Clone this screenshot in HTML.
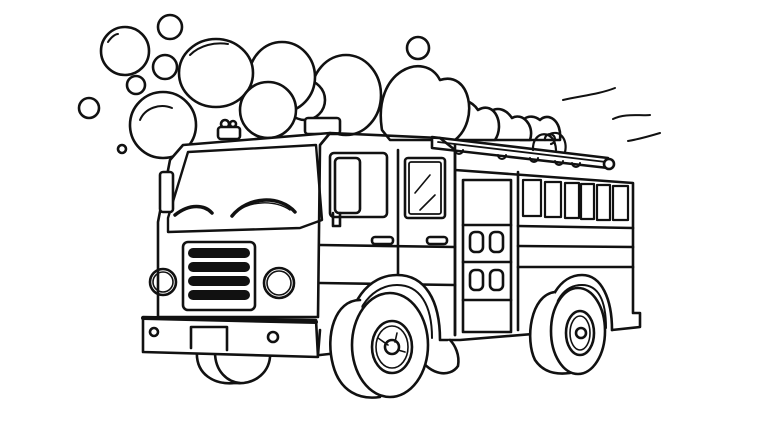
<!DOCTYPE html>
<html><head><meta charset="utf-8"><style>
html,body{margin:0;padding:0;background:#fff;width:768px;height:439px;overflow:hidden}
svg{display:block}
</style></head><body>
<svg width="768" height="439" viewBox="0 0 768 439" xmlns="http://www.w3.org/2000/svg" fill="none" stroke="#111" stroke-width="2.6" stroke-linejoin="round" stroke-linecap="round">
<!-- bubbles / smoke -->
<g fill="#fff">
<circle cx="125" cy="51" r="24"/>
<circle cx="170" cy="27" r="12"/>
<circle cx="165" cy="67" r="12"/>
<circle cx="136" cy="85" r="9"/>
<circle cx="89" cy="108" r="10"/>
<circle cx="122" cy="149" r="4"/>
<circle cx="418" cy="48" r="11"/>
<path d="M520 140 C515 118 530 112 540 120 C548 112 562 120 560 140 Z"/>
<path d="M485 140 C478 110 500 100 512 118 C522 112 535 125 530 140 Z"/>
<path d="M440 140 C430 100 465 90 478 110 C495 100 505 125 495 140 Z"/>
<path d="M382 130 C372 70 425 50 440 80 C470 70 480 120 455 140 L390 140 Z"/>
<ellipse cx="346" cy="95" rx="35" ry="40"/>
<circle cx="305" cy="100" r="20"/>
<ellipse cx="282" cy="77" rx="33" ry="35"/>
<ellipse cx="216" cy="73" rx="37" ry="34"/>
<circle cx="268" cy="110" r="28"/>
<circle cx="163" cy="125" r="33"/>
<circle cx="225" cy="124" r="4"/>
<circle cx="233" cy="124" r="3"/>
</g>
<path d="M190 55 C200 45 215 42 228 44" stroke-width="2"/>
<path d="M140 120 C145 108 160 103 172 108" stroke-width="2"/>
<path d="M108 42 C112 36 116 34 118 34" stroke-width="2"/>
<!-- wind lines -->
<path d="M563 100 C580 96 600 94 615 88" stroke-width="2"/>
<path d="M613 119 C625 113 640 116 650 115" stroke-width="2"/>
<path d="M628 141 C640 139 650 136 660 133" stroke-width="2"/>
<!-- roof lights -->
<rect x="218" y="127" width="22" height="12" rx="3" fill="#fff"/>
<rect x="305" y="118" width="35" height="16" rx="3" fill="#fff"/>
<!-- ladder -->
<g fill="#fff">
<path d="M432 137 L608 158 L608 168 L432 148 Z"/>
</g>
<path d="M438 142 L606 162" stroke-width="1.8"/>
<circle cx="609" cy="164" r="5" fill="#fff"/>
<path d="M455 150 a4 4 0 0 0 8 0 M498 155 a4 4 0 0 0 8 0 M530 158 a4 4 0 0 0 8 0 M555 161 a4 4 0 0 0 8 0 M572 163 a4 4 0 0 0 8 0" stroke-width="2"/>
<path d="M533 150 C532 130 555 128 556 150 M545 140 a5 5 0 1 1 6 4 M548 135 C560 128 568 140 565 152" stroke-width="2.2"/>
<!-- rear body -->
<path d="M455 145 L455 335 M455 170 L633 183 L633 313 L640 313 L640 327 L612 330" fill="#fff"/>
<path d="M518 172 L518 330" />
<g stroke-width="2.2">
<rect x="523" y="180" width="18" height="36"/>
<rect x="545" y="182" width="16" height="35"/>
<rect x="565" y="183" width="14" height="35"/>
<rect x="581" y="184" width="13" height="35"/>
<rect x="597" y="185" width="13" height="35"/>
<rect x="613" y="186" width="15" height="34"/>
</g>
<path d="M518 226 L633 228 M518 246 L633 247 M518 267 L633 267"/>
<!-- compartment -->
<rect x="463" y="180" width="48" height="152"/>
<path d="M463 225 L511 225 M463 262 L511 262 M463 300 L511 300"/>
<rect x="470" y="232" width="13" height="20" rx="5"/><rect x="490" y="232" width="13" height="20" rx="5"/>
<rect x="470" y="270" width="13" height="20" rx="5"/><rect x="490" y="270" width="13" height="20" rx="5"/>
<!-- cab side -->
<path d="M320 145 L330 133 L440 138 L455 150 L455 335" fill="none"/>
<path d="M320 245 L455 247 M320 283 L455 285"/>
<path d="M398 150 L398 282"/>
<rect x="330" y="153" width="57" height="64" rx="4"/>
<rect x="335" y="158" width="25" height="55" rx="4"/>
<path d="M333 213 L333 226 L340 226 L340 213"/>
<rect x="405" y="158" width="40" height="60" rx="3"/>
<rect x="409" y="162" width="32" height="52" rx="2" stroke-width="1.8"/>
<path d="M415 193 L430 175 M420 210 L435 195" stroke-width="1.6"/>
<rect x="372" y="237" width="21" height="7" rx="3"/>
<rect x="427" y="237" width="20" height="7" rx="3"/>
<!-- front under-bumper wheels -->
<path d="M197 350 C195 375 215 385 235 383 C255 385 272 372 270 350" fill="#fff"/>
<path d="M215 352 C215 372 228 382 240 383"/>
<!-- wheel arches -->
<path d="M320 355 L347 352 C345 300 370 275 397 275 C425 275 440 300 440 340 L460 340 L545 333 C545 300 560 275 582 275 C602 275 612 300 612 330" fill="#fff"/>
<path d="M352 350 C352 305 375 285 397 285 C420 285 432 305 432 338" stroke-width="2"/>
<path d="M552 330 C552 300 565 285 582 285 C598 285 606 300 606 328" stroke-width="2"/>
<!-- front wheel (side) -->
<path d="M360 300 C335 300 325 335 333 365 C340 392 360 400 380 397" fill="#fff"/>
<path d="M420 358 C430 375 450 378 458 366 C460 355 455 345 450 340" fill="#fff"/>
<ellipse cx="390" cy="345" rx="38" ry="52" fill="#fff"/>
<ellipse cx="392" cy="347" rx="20" ry="26"/>
<ellipse cx="392" cy="347" rx="16" ry="21" stroke-width="1.6"/>
<circle cx="392" cy="347" r="7"/>
<path d="M378 338 L388 345 M397 333 L395 342 M405 352 L398 350" stroke-width="1.6"/>
<!-- rear wheel -->
<path d="M555 292 C530 295 525 340 535 360 C543 372 555 375 570 373" fill="#fff"/>
<ellipse cx="578" cy="331" rx="27" ry="43" fill="#fff"/>
<ellipse cx="580" cy="333" rx="14" ry="22"/>
<ellipse cx="580" cy="333" rx="10" ry="17" stroke-width="1.6"/>
<circle cx="581" cy="333" r="5"/>
<!-- cab front -->
<path d="M183 145 L330 133 L320 145 L318 317 L158 317 L158 222 L170 160 Z" fill="#fff"/>
<path d="M188 152 L316 145 L322 220 L300 228 L168 232 L168 218 Z" stroke-width="2.4"/>
<rect x="160" y="172" width="13" height="40" rx="3" fill="#fff"/>
<path d="M175 215 C190 203 205 205 212 213" stroke-width="3.5"/>
<path d="M232 216 C248 196 280 195 295 212" stroke-width="3.5"/>
<path d="M235 213 C250 200 275 200 290 210" stroke-width="1.4"/>
<!-- grille -->
<rect x="183" y="242" width="72" height="68" rx="5"/>
<g fill="#111" stroke="none">
<rect x="188" y="248" width="62" height="10" rx="5"/>
<rect x="188" y="262" width="62" height="10" rx="5"/>
<rect x="188" y="276" width="62" height="10" rx="5"/>
<rect x="188" y="290" width="62" height="10" rx="5"/>
</g>
<!-- headlights -->
<circle cx="163" cy="282" r="13"/>
<circle cx="163" cy="282" r="10" stroke-width="1.6"/>
<circle cx="279" cy="283" r="15"/>
<circle cx="279" cy="283" r="12" stroke-width="1.6"/>
<!-- bumper -->
<path d="M143 317 L316 320 L318 357 L143 352 Z" fill="#fff"/>
<path d="M143 318 L316 322" stroke-width="4"/>
<circle cx="154" cy="332" r="4"/>
<circle cx="273" cy="337" r="5"/>
<path d="M191 348 L191 327 L227 327 L227 350"/>
<path d="M318 355 L320 330"/>
</svg>
</body></html>
